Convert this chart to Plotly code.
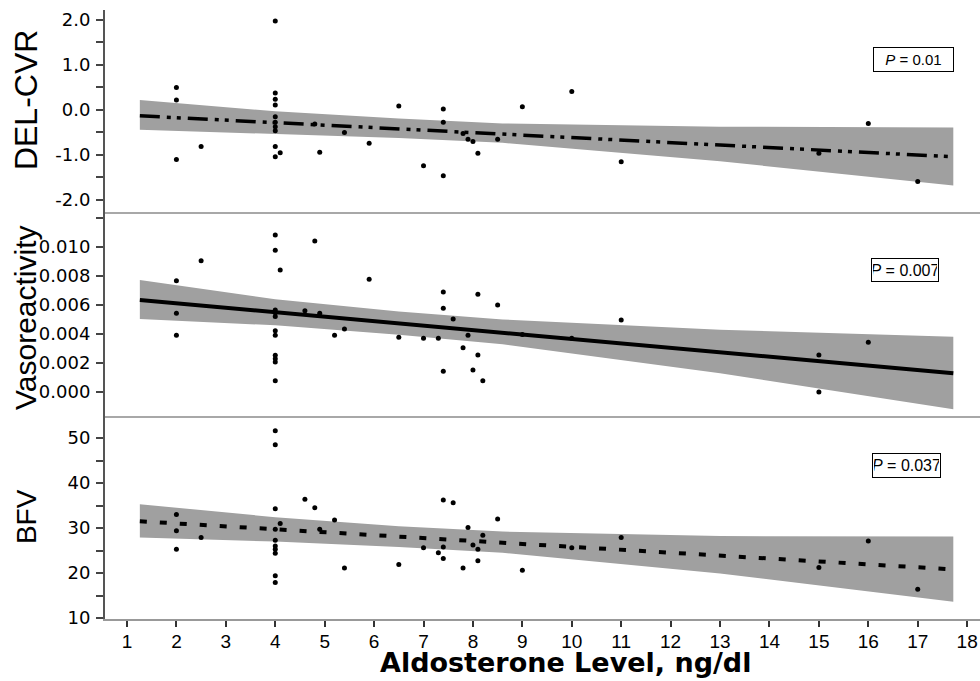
import plotly.graph_objects as go

# ---------------- data ----------------
# DEL-CVR panel
cvr_x = [2.0, 2.0, 2.0, 2.5, 4.0, 4.0, 4.0, 4.0, 4.0, 4.0, 4.0, 4.0, 4.0, 4.0,
         4.1, 4.8, 4.9, 5.4, 5.9, 6.5, 7.0, 7.4, 7.4, 7.4, 7.8, 7.9, 8.0, 8.1,
         8.5, 9.0, 10.0, 11.0, 15.0, 16.0, 17.0]
cvr_y = [0.50, 0.22, -1.10, -0.81, 1.98, 0.38, 0.24, 0.11, -0.15, -0.27, -0.37, -0.46, -0.81, -1.04,
         -0.95, -0.31, -0.94, -0.50, -0.74, 0.09, -1.24, 0.02, -0.27, -1.46, -0.52, -0.65, -0.70, -0.96,
         -0.65, 0.07, 0.41, -1.15, -0.96, -0.30, -1.59]

# Vasoreactivity panel
vaso_x = [2.0, 2.0, 2.0, 2.5, 4.0, 4.0, 4.0, 4.0, 4.0, 4.0, 4.0, 4.0, 4.0, 4.0, 4.0,
          4.1, 4.6, 4.8, 4.9, 5.2, 5.4, 5.9, 6.5, 7.0, 7.3, 7.4, 7.4, 7.4, 7.6,
          7.8, 7.9, 8.0, 8.1, 8.1, 8.2, 8.5, 9.0, 10.0, 11.0, 15.0, 15.0, 16.0]
vaso_y = [0.00768, 0.00543, 0.00391, 0.00906, 0.01083, 0.00977, 0.00566, 0.00547, 0.00520, 0.00423,
          0.00391, 0.00253, 0.00230, 0.00207, 0.00078,
          0.00841, 0.00561, 0.01041, 0.00543, 0.00391, 0.00434, 0.00777, 0.00377, 0.00370, 0.00370,
          0.00690, 0.00577, 0.00143, 0.00503,
          0.00306, 0.00391, 0.00152, 0.00674, 0.00255, 0.00078, 0.00600, 0.00397, 0.00370, 0.00497,
          0.00255, 0.00000, 0.00343]

# BFV panel
bfv_x = [2.0, 2.0, 2.0, 2.5, 4.0, 4.0, 4.0, 4.0, 4.0, 4.0, 4.0, 4.0, 4.0, 4.0,
         4.1, 4.6, 4.8, 4.9, 5.2, 5.4, 6.5, 7.0, 7.3, 7.4, 7.4, 7.4, 7.6, 7.8,
         7.9, 8.0, 8.1, 8.1, 8.2, 8.5, 9.0, 10.0, 11.0, 15.0, 16.0, 17.0]
bfv_y = [33.0, 29.4, 25.3, 27.9, 51.6, 48.5, 34.3, 29.7, 27.3, 26.0, 25.3, 24.4, 19.4, 17.9,
         31.0, 36.4, 34.5, 29.7, 31.8, 21.1, 21.9, 25.6, 24.5, 36.2, 25.8, 23.2, 35.6, 21.1,
         30.1, 26.2, 25.3, 22.7, 28.4, 32.0, 20.6, 25.6, 27.9, 21.2, 27.1, 16.4]

# regression lines (end points) and confidence bands
line_x = [1.26, 17.72]
cvr_line = [-0.13, -1.04]
vaso_line = [0.00634, 0.00129]
bfv_line = [31.5, 20.8]

band_x = [1.26, 4.0, 6.5, 8.6, 13.0, 17.72]
cvr_upper = [0.22, -0.03, -0.19, -0.30, -0.37, -0.39]
cvr_lower = [-0.44, -0.53, -0.62, -0.73, -1.14, -1.68]
vaso_upper = [0.00772, 0.00640, 0.00555, 0.00500, 0.00430, 0.00381]
vaso_lower = [0.00503, 0.00460, 0.00395, 0.00330, 0.00130, -0.00119]
bfv_upper = [35.3, 32.4, 30.4, 29.2, 28.2, 28.1]
bfv_lower = [27.9, 27.0, 25.8, 24.5, 19.9, 13.6]

x_ticks = list(range(1, 19))
cvr_ticks = [-2, -1.5, -1, -0.5, 0, 0.5, 1, 1.5, 2]
cvr_ticktext = ["-2.0", "", "-1.0", "", "0.0", "", "1.0", "", "2.0"]
vaso_ticks = [0, 0.002, 0.004, 0.006, 0.008, 0.010, 0.012]
vaso_ticktext = ["0.000", "0.002", "0.004", "0.006", "0.008", "0.010", ""]
bfv_ticks = [10, 15, 20, 25, 30, 35, 40, 45, 50]
bfv_ticktext = ["10", "", "20", "", "30", "", "40", "", "50"]

p_texts = ["<i>P</i> = 0.01", "<i>P</i> = 0.007", "<i>P</i> = 0.037"]
y_titles = ["DEL-CVR", "Vasoreactivity", "BFV"]
x_title = "Aldosterone Level, ng/dl"

# ---------------- figure ----------------
BAND = "#a0a0a0"
FONT = "Arial, Liberation Sans, sans-serif"
WIDE = "DejaVu Sans, Verdana, sans-serif"
fig = go.Figure()

panels = [
    ("x", "y", cvr_x, cvr_y, cvr_line, cvr_upper, cvr_lower,
     dict(width=3.5, dash="20px,7px,4px,6px,4px,7px")),
    ("x2", "y2", vaso_x, vaso_y, vaso_line, vaso_upper, vaso_lower,
     dict(width=4)),
    ("x3", "y3", bfv_x, bfv_y, bfv_line, bfv_upper, bfv_lower,
     dict(width=4, dash="7px,13px")),
]
for xa, ya, px, py, ln, up, lo, lstyle in panels:
    fig.add_trace(go.Scatter(x=band_x, y=lo, mode="lines", line=dict(width=0, color=BAND),
                             xaxis=xa, yaxis=ya, hoverinfo="skip"))
    fig.add_trace(go.Scatter(x=band_x, y=up, mode="lines", line=dict(width=0, color=BAND),
                             fill="tonexty", fillcolor=BAND, xaxis=xa, yaxis=ya, hoverinfo="skip"))
    fig.add_trace(go.Scatter(x=line_x, y=ln, mode="lines", line=dict(color="black", **lstyle),
                             xaxis=xa, yaxis=ya))
    fig.add_trace(go.Scatter(x=px, y=py, mode="markers", marker=dict(color="black", size=5),
                             xaxis=xa, yaxis=ya))

xcommon = dict(range=[0.555, 18.26], domain=[0, 1], showgrid=False, zeroline=False,
               showline=True, linecolor="#a8a8a8", linewidth=2)
ycommon = dict(showgrid=False, zeroline=False, showline=True, linecolor="#555555", linewidth=2,
               ticks="outside", ticklen=7, tickwidth=1.5, tickcolor="#444444",
               ticklabelstandoff=2,
               tickfont=dict(family=WIDE, size=18, color="black"))

fig.update_layout(
    width=980, height=681,
    margin=dict(l=105, r=0, t=10, b=62),
    plot_bgcolor="white", paper_bgcolor="white",
    showlegend=False,
    font=dict(family=FONT, color="black"),
    xaxis=dict(anchor="y", showticklabels=False, ticks="", **xcommon),
    xaxis2=dict(anchor="y2", showticklabels=False, ticks="", matches="x", **xcommon),
    xaxis3=dict(anchor="y3", matches="x", tickvals=x_ticks, ticks="outside", ticklen=6,
                tickwidth=1.5, tickcolor="#333333", ticklabelstandoff=-2,
                tickfont=dict(family=FONT, size=19, color="black"),
                **{**xcommon, "linecolor": "#999999"}),
    yaxis=dict(domain=[0.6683, 1], range=[-2.267, 2.222], tickvals=cvr_ticks,
               ticktext=cvr_ticktext, anchor="x", **ycommon),
    yaxis2=dict(domain=[0.3333, 0.6683], range=[-0.001655, 0.012414], tickvals=vaso_ticks,
                ticktext=vaso_ticktext, anchor="x2", **ycommon),
    yaxis3=dict(domain=[0, 0.3333], range=[9.78, 54.89], tickvals=bfv_ticks,
                ticktext=bfv_ticktext, anchor="x3", **ycommon),
)

# y-axis titles
for title, yc, size in zip(y_titles, [0.852, 0.4959, 0.169], [32, 30, 28]):
    fig.add_annotation(text=title, xref="paper", yref="paper", x=-0.0903, y=yc,
                       textangle=-90, showarrow=False, xanchor="center", yanchor="middle",
                       font=dict(family=FONT, size=size, color="black"))

# x-axis title
fig.add_annotation(text="<b>" + x_title + "</b>", xref="paper", yref="paper", x=0.5263,
                   y=-0.0722, showarrow=False, xanchor="center", yanchor="middle",
                   font=dict(family=WIDE, size=27, color="black"))

# P-value boxes
for txt, xc, yc, w, h, fs in zip(p_texts, [0.9239, 0.9143, 0.916], [0.9184, 0.5731, 0.2521],
                                 [77, 64, 65], [21, 20, 21], [15, 16, 16]):
    fig.add_annotation(text=txt, xref="paper", yref="paper", x=xc, y=yc, showarrow=False,
                       xanchor="center", yanchor="middle", width=w, height=h,
                       bordercolor="black", borderwidth=1, borderpad=1, bgcolor="white",
                       font=dict(family=FONT, size=fs, color="black"))

fig.write_html("out.html", config={"displayModeBar": False},
               post_script="document.body.style.margin='0px';")
